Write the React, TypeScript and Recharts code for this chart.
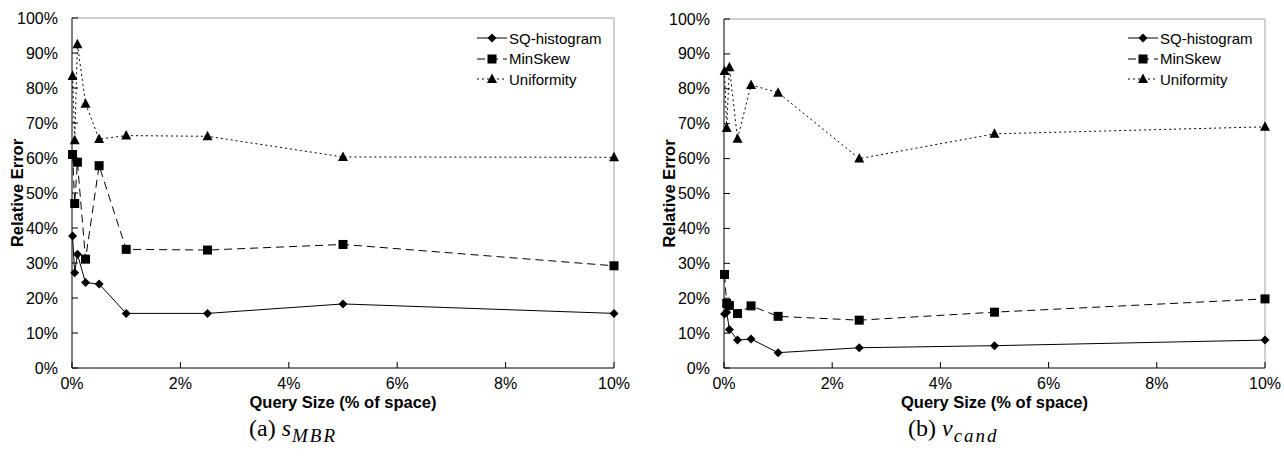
import React from 'react';
import { LineChart, Line, XAxis, YAxis, Legend, ReferenceLine } from 'recharts';

const querySizes = [0.01, 0.05, 0.1, 0.25, 0.5, 1, 2.5, 5, 10];

// (a) s_MBR
const sqHistA = [37.7, 27.2, 32.5, 24.4, 24.0, 15.6, 15.6, 18.3, 15.6];
const minSkewA = [61.0, 47.0, 58.8, 31.1, 57.8, 33.9, 33.7, 35.3, 29.2];
const uniformA = [83.4, 65.1, 92.5, 75.5, 65.4, 66.4, 66.2, 60.3, 60.2];

// (b) v_cand
const sqHistB = [15.5, 16.0, 11.0, 8.0, 8.3, 4.4, 5.8, 6.4, 8.0];
const minSkewB = [26.8, 18.5, 17.9, 15.6, 17.8, 14.8, 13.7, 16.0, 19.8];
const uniformB = [85.1, 68.8, 86.2, 65.7, 81.1, 78.9, 60.0, 67.1, 69.1];

const xTicks = [0, 2, 4, 6, 8, 10];
const yTicks = [0, 10, 20, 30, 40, 50, 60, 70, 80, 90, 100];

const FONT = '"Liberation Sans", Arial, sans-serif';

const Diamond = (props: any) => {
  const { cx, cy } = props;
  if (cx == null || cy == null) return null;
  return <polygon points={`${cx},${cy - 4.5} ${cx + 4.5},${cy} ${cx},${cy + 4.5} ${cx - 4.5},${cy}`} fill="#000" />;
};
const Square = (props: any) => {
  const { cx, cy } = props;
  if (cx == null || cy == null) return null;
  return <rect x={cx - 4.5} y={cy - 4.5} width={9} height={9} fill="#000" />;
};
const Triangle = (props: any) => {
  const { cx, cy } = props;
  if (cx == null || cy == null) return null;
  return <polygon points={`${cx},${cy - 5.5} ${cx + 5},${cy + 4} ${cx - 5},${cy + 4}`} fill="#000" />;
};

const series = [
  { key: 'sq', name: 'SQ-histogram', dash: undefined, Shape: Diamond },
  { key: 'ms', name: 'MinSkew', dash: '8 5', Shape: Square },
  { key: 'uni', name: 'Uniformity', dash: '2 3', Shape: Triangle },
];

const LegendBox = () => (
  <div style={{ fontFamily: FONT, fontSize: 15, color: '#000' }}>
    {series.map((s) => (
      <div key={s.key} style={{ display: 'flex', alignItems: 'center', height: 20.5 }}>
        <svg width={30} height={12} style={{ marginRight: 2 }}>
          <line x1={0} y1={6} x2={30} y2={6} stroke="#000" strokeWidth={1} strokeDasharray={s.dash} />
          <s.Shape cx={15} cy={6} />
        </svg>
        <span>{s.name}</span>
      </div>
    ))}
  </div>
);

const YTick = (props: any) => {
  const { x, y, payload } = props;
  return (
    <g>
      <line x1={x} y1={y} x2={x + 6} y2={y} stroke="#000" />
      <text x={x - 14} y={y + 5.5} textAnchor="end" fontSize={16} fontFamily={FONT} fill="#000">
        {payload.value}%
      </text>
    </g>
  );
};

const XTick = (props: any) => {
  const { x, y, payload } = props;
  return (
    <g>
      <line x1={x} y1={y} x2={x} y2={y - 6} stroke="#000" />
      <text x={x} y={y + 21} textAnchor="middle" fontSize={16} fontFamily={FONT} fill="#000">
        {payload.value}%
      </text>
    </g>
  );
};

interface PanelProps {
  sq: number[];
  ms: number[];
  uni: number[];
  width: number;
  marginRight: number;
  marginTop: number;
}

function Panel({ sq, ms, uni, width, marginRight, marginTop }: PanelProps) {
  const data = querySizes.map((x, i) => ({ x, sq: sq[i], ms: ms[i], uni: uni[i] }));
  const plotRight = width - marginRight;
  return (
    <LineChart
      width={width}
      height={420}
      data={data}
      margin={{ top: marginTop, right: marginRight, left: 0, bottom: 7 }}
    >
      <ReferenceLine y={100} stroke="#a0a0a0" strokeWidth={1} />
      <ReferenceLine x={10} stroke="#a0a0a0" strokeWidth={1} />
      <XAxis
        dataKey="x"
        type="number"
        domain={[0, 10]}
        ticks={xTicks}
        stroke="#000"
        tickSize={0}
        tickMargin={0}
        tickLine={false}
        tick={<XTick />}
        height={45}
        label={{
          content: (p: any) => {
            const vb = p.viewBox;
            return (
              <text x={vb.x + vb.width / 2} y={vb.y + 40} textAnchor="middle" fontSize={16.5} fontWeight="bold" fontFamily={FONT} fill="#000">
                Query Size (% of space)
              </text>
            );
          },
        }}
      />
      <YAxis
        domain={[0, 100]}
        ticks={yTicks}
        width={72}
        stroke="#000"
        tickSize={0}
        tickMargin={0}
        tickLine={false}
        tick={<YTick />}
        label={{
          content: (p: any) => {
            const vb = p.viewBox;
            const cx = vb.x + 17;
            const cy = vb.y + vb.height / 2;
            return (
              <text x={cx} y={cy} transform={`rotate(-90, ${cx}, ${cy})`} textAnchor="middle" dominantBaseline="central" fontSize={16.5} fontWeight="bold" fontFamily={FONT} fill="#000">
                Relative Error
              </text>
            );
          },
        }}
      />
      <Legend
        layout="vertical"
        align="center"
        verticalAlign="middle"
        content={() => <LegendBox />}
        wrapperStyle={{ top: 28, left: plotRight - 137, width: 140, height: 64, right: 'auto', bottom: 'auto' }}
      />
      <Line dataKey="sq" name="SQ-histogram" stroke="#000" strokeWidth={1} dot={<Diamond />} activeDot={false} isAnimationActive={false} />
      <Line dataKey="ms" name="MinSkew" stroke="#000" strokeWidth={1} strokeDasharray="8 5" dot={<Square />} activeDot={false} isAnimationActive={false} />
      <Line dataKey="uni" name="Uniformity" stroke="#000" strokeWidth={1} strokeDasharray="2 3" dot={<Triangle />} activeDot={false} isAnimationActive={false} />
    </LineChart>
  );
}

const captionStyle: React.CSSProperties = {
  position: 'absolute',
  top: 416,
  fontFamily: '"Liberation Serif", "DejaVu Serif", serif',
  fontSize: 24,
  lineHeight: 1,
  color: '#000',
  whiteSpace: 'nowrap',
};

const subStyle: React.CSSProperties = { fontSize: 19, letterSpacing: 2, marginLeft: 1 };

export default function App() {
  return (
    <div style={{ position: 'absolute', left: 0, top: 0, width: 1284, height: 464, background: '#fff', overflow: 'hidden' }}>
      <div style={{ position: 'absolute', left: 0, top: 0 }}>
        <Panel sq={sqHistA} ms={minSkewA} uni={uniformA} width={640} marginRight={26} marginTop={18} />
      </div>
      <div style={{ position: 'absolute', left: 652, top: 0 }}>
        <Panel sq={sqHistB} ms={minSkewB} uni={uniformB} width={632} marginRight={19} marginTop={19} />
      </div>
      <div style={{ ...captionStyle, left: 249 }}>
        (a)&nbsp;<i>s</i>
        <sub style={subStyle}><i>MBR</i></sub>
      </div>
      <div style={{ ...captionStyle, left: 908 }}>
        (b)&nbsp;<i>v</i>
        <sub style={subStyle}><i>cand</i></sub>
      </div>
    </div>
  );
}
